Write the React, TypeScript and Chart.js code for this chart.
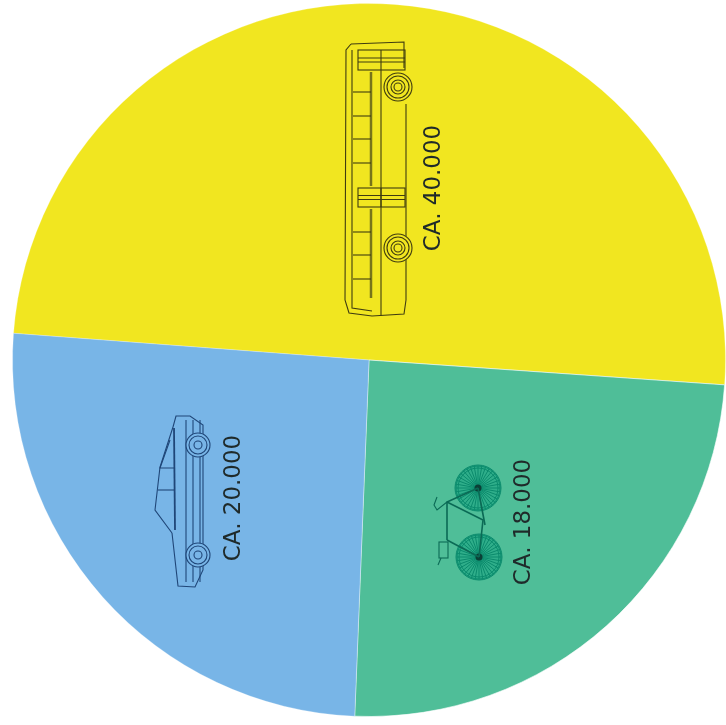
import React, { useEffect, useRef } from "react";
import { Chart, registerables } from "chart.js";

Chart.register(...registerables);

const categories = ["Bus", "Fahrrad", "Auto"];
// Slice shares (degrees of the circle)
const sliceShares = [179.7, 88.3, 92];
const sliceLabels = ["CA. 40.000", "CA. 18.000", "CA. 20.000"];
const sliceColors = ["#F1E620", "#4FBE98", "#78B5E7"];

type C = CanvasRenderingContext2D;

function line(c: C, pts: number[][]) {
  c.beginPath();
  pts.forEach((p, i) => (i ? c.lineTo(p[0], p[1]) : c.moveTo(p[0], p[1])));
  c.stroke();
}
function ring(c: C, x: number, y: number, r: number) {
  c.beginPath();
  c.arc(x, y, r, 0, Math.PI * 2);
  c.stroke();
}

function drawBus(c: C) {
  c.strokeStyle = "#3f3c10";
  c.lineWidth = 1.1;
  line(c, [[351, 44], [346, 50], [345, 300], [349, 313], [372, 316], [404, 314], [406, 300], [406, 104]]);
  line(c, [[351, 44], [404, 42], [404, 68]]);
  line(c, [[352, 50], [352, 308], [372, 311]]);
  line(c, [[381, 70], [381, 316]]);
  c.strokeStyle = "#77741a";
  c.lineWidth = 2.5;
  line(c, [[371, 72], [371, 186]]);
  line(c, [[371, 209], [371, 298]]);
  c.strokeStyle = "#3f3c10";
  c.lineWidth = 1.1;
  [92, 116, 139, 163, 232, 255, 279].forEach((y) => line(c, [[353, y], [371, y]]));
  [[50, 70], [188, 207]].forEach(([a, b]) => {
    c.strokeRect(358, a, 47, b - a);
    line(c, [[358, (a + b) / 2 - 2], [405, (a + b) / 2 - 2]]);
    line(c, [[358, (a + b) / 2 + 2], [405, (a + b) / 2 + 2]]);
    line(c, [[381, a], [381, b]]);
  });
  [[398, 87], [398, 248]].forEach(([x, y]) => {
    c.fillStyle = "#F1E620";
    c.beginPath();
    c.arc(x, y, 14, 0, Math.PI * 2);
    c.fill();
    [14, 11, 7, 4].forEach((r) => ring(c, x, y, r));
  });
}

function drawCar(c: C) {
  c.strokeStyle = "#1f4678";
  c.lineWidth = 1.1;
  line(c, [[173, 427], [160, 467], [155, 510], [172, 533]]);
  c.lineWidth = 1.8;
  line(c, [[174, 428], [175, 530]]);
  c.lineWidth = 1.1;
  line(c, [[170, 440], [160, 468], [175, 468]]);
  line(c, [[158, 490], [175, 490]]);
  line(c, [[172, 533], [178, 586], [195, 587], [203, 570], [203, 425], [190, 416], [176, 416], [173, 427]]);
  [186, 193, 200].forEach((x) => line(c, [[x, 420], [x, 582]]));
  [[198, 445], [198, 555]].forEach(([x, y]) => {
    c.fillStyle = "#78B5E7";
    c.beginPath();
    c.arc(x, y, 12, 0, Math.PI * 2);
    c.fill();
    [12, 9, 4].forEach((r) => ring(c, x, y, r));
  });
}

function drawBike(c: C) {
  c.strokeStyle = "#0a8a6c";
  c.lineWidth = 1;
  [[478, 488], [479, 557]].forEach(([x, y]) => {
    c.fillStyle = "#2fae8a";
    c.beginPath();
    c.arc(x, y, 23, 0, Math.PI * 2);
    c.fill();
    [23, 22, 20].forEach((r) => ring(c, x, y, r));
    for (let i = 0; i < 36; i++) {
      const a = (i * Math.PI) / 18;
      line(c, [[x, y], [x + 22 * Math.cos(a), y + 22 * Math.sin(a)]]);
    }
    c.fillStyle = "#0b3f36";
    c.beginPath();
    c.arc(x, y, 3.5, 0, Math.PI * 2);
    c.fill();
  });
  c.strokeStyle = "#0b6a55";
  c.lineWidth = 1.6;
  line(c, [[478, 488], [447, 502], [447, 540]]);
  line(c, [[447, 502], [483, 520], [479, 557]]);
  line(c, [[478, 488], [485, 525]]);
  line(c, [[447, 540], [479, 557]]);
  c.lineWidth = 1.1;
  line(c, [[437, 497], [434, 505], [437, 510], [447, 502]]);
  c.strokeRect(439, 542, 9, 16);
  line(c, [[441, 558], [438, 565]]);
}

const overlay = {
  id: "overlay",
  afterDatasetsDraw(chart: Chart) {
    const c = chart.ctx;
    const arc = chart.getDatasetMeta(0).data[0] as any;
    const ox = arc.x - 369;
    const oy = arc.y - 360;
    c.save();
    c.translate(ox, oy);
    drawBus(c);
    drawCar(c);
    drawBike(c);
    const spots = [[434, 188], [524, 522], [234, 498]];
    c.fillStyle = "#1f2a2a";
    c.font = '23px "DejaVu Sans"';
    c.textAlign = "center";
    c.textBaseline = "middle";
    sliceLabels.forEach((t, i) => {
      c.save();
      c.translate(spots[i][0], spots[i][1]);
      c.rotate(-Math.PI / 2);
      c.fillText(t, 0, 0);
      c.restore();
    });
    c.restore();
  },
};

export default function App() {
  const ref = useRef<HTMLCanvasElement>(null);
  useEffect(() => {
    const chart = new Chart(ref.current!, {
      type: "pie",
      data: {
        labels: categories,
        datasets: [
          {
            data: sliceShares,
            backgroundColor: sliceColors,
            borderColor: ["rgba(255,255,255,0.25)", "rgba(255,255,255,0.6)", "rgba(255,255,255,0.25)"],
            borderWidth: 1,
          },
        ],
      },
      options: {
        animation: false,
        responsive: false,
        rotation: 274.3,
        layout: { padding: { left: 12, right: 0, top: 0, bottom: 5 } },
        plugins: { legend: { display: false }, tooltip: { enabled: false } },
      },
      plugins: [overlay],
    });
    return () => chart.destroy();
  }, []);
  return (
    <div style={{ position: "absolute", left: 0, top: 0, width: 726, height: 725, background: "#fff" }}>
      <canvas ref={ref} width={726} height={725} style={{ display: "block", filter: "blur(0.7px)" }} />
    </div>
  );
}
